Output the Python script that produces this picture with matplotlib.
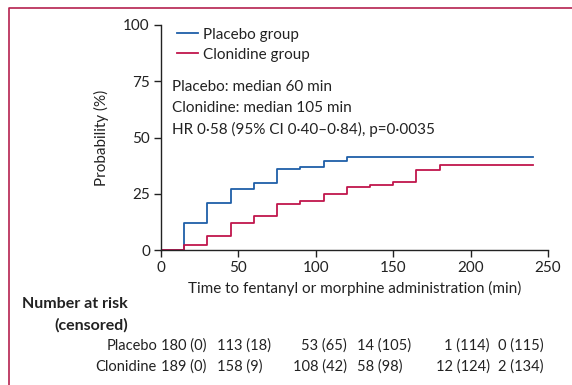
import matplotlib
matplotlib.use("Agg")
import matplotlib.pyplot as plt
from matplotlib.lines import Line2D

plt.rcParams['font.family'] = ['Lato', 'DejaVu Sans']

# Kaplan-Meier step data (time in min, cumulative probability in %)
placebo_t = [0, 15, 30, 45, 60, 75, 90, 105, 120, 240]
placebo_p = [0, 12, 21, 27, 30, 36, 37, 39.7, 41.5, 41.5]
clonidine_t = [0, 15, 30, 45, 60, 75, 90, 105, 120, 135, 150, 165, 180, 240]
clonidine_p = [0, 2.1, 6.3, 11.8, 15, 20.5, 21.7, 24.9, 28, 29, 30.4, 35.5, 37.6, 37.6]

risk_groups = ['Placebo', 'Clonidine']
placebo_risk = ['180 (0)', '113 (18)', '53 (65)', '14 (105)', '1 (114)', '0 (115)']
clonidine_risk = ['189 (0)', '158 (9)', '108 (42)', '58 (98)', '12 (124)', '2 (134)']

BLUE = '#1f5fa8'
RED = '#c0164c'
TXT = '#222222'
FS = 11
FS_TAB = 10.5

fig = plt.figure(figsize=(5.72, 3.85), dpi=100)
W, H = 572, 385
ax = fig.add_axes([161 / W, 1 - 250 / H, (548 - 161) / W, (250 - 25) / H])

ax.step(placebo_t, placebo_p, where='post', color=BLUE, lw=1.3)
ax.step(clonidine_t, clonidine_p, where='post', color=RED, lw=1.3)

ax.set_xlim(0, 250)
ax.set_ylim(0, 100)
ax.set_xticks([0, 50, 100, 150, 200, 250])
ax.set_yticks([0, 25, 50, 75, 100])
for s in ['top', 'right']:
    ax.spines[s].set_visible(False)
for s in ['left', 'bottom']:
    ax.spines[s].set_color(TXT)
    ax.spines[s].set_linewidth(1.0)
ax.tick_params(colors=TXT, labelsize=FS, length=5, width=1.0, pad=3)
ax.set_ylabel('Probability (%)', fontsize=FS, color=TXT, labelpad=10)
ax.set_xlabel('Time to fentanyl or morphine administration (min)', fontsize=FS,
              color=TXT, labelpad=4)

# legend
handles = [Line2D([], [], color=BLUE, lw=1.3), Line2D([], [], color=RED, lw=1.3)]
leg = ax.legend(handles, ['Placebo group', 'Clonidine group'], loc='upper left',
                bbox_to_anchor=(0.025, 1.015), frameon=False, fontsize=FS,
                handlelength=1.4, handletextpad=0.3, labelspacing=0.4,
                borderaxespad=0)
for t in leg.get_texts():
    t.set_color(TXT)

ax.text(7, 72.5, 'Placebo: median 60 min', fontsize=FS, color=TXT, va='center')
ax.text(7, 63, 'Clonidine: median 105 min', fontsize=FS, color=TXT, va='center')
ax.text(7, 53.5, 'HR 0·58 (95% CI 0·40–0·84), p=0·0035', fontsize=FS, color=TXT,
        va='center')

# number at risk table
fig.text(128 / W, 1 - 304 / H, 'Number at risk', fontsize=FS + 0.5, fontweight='bold',
         color=TXT, ha='right', va='center')
fig.text(128 / W, 1 - 325 / H, '(censored)', fontsize=FS + 0.5, fontweight='bold',
         color=TXT, ha='right', va='center')

col_pos = [(0, 'left'), (36, 'left'), (120, 'right'), (126.5, 'left'),
           (212.5, 'right'), (247, 'right')]
rows = [placebo_risk, clonidine_risk]
row_y = [346, 367]
for name, vals, yy in zip(risk_groups, rows, row_y):
    fig.text(157 / W, 1 - yy / H, name, fontsize=FS_TAB, color=TXT, ha='right', va='center')
    for (xd, ha), v in zip(col_pos, vals):
        xf = (161 + xd * (548 - 161) / 250) / W
        fig.text(xf, 1 - yy / H, v, fontsize=FS_TAB, color=TXT, ha=ha, va='center')

# frame line on left and top
frame = Line2D([8.5 / W, 8.5 / W, 1], [0, 1 - 7.5 / H, 1 - 7.5 / H],
               transform=fig.transFigure, color='#b5214f', lw=1.2)
fig.add_artist(frame)

fig.savefig('out.png', dpi=100)
